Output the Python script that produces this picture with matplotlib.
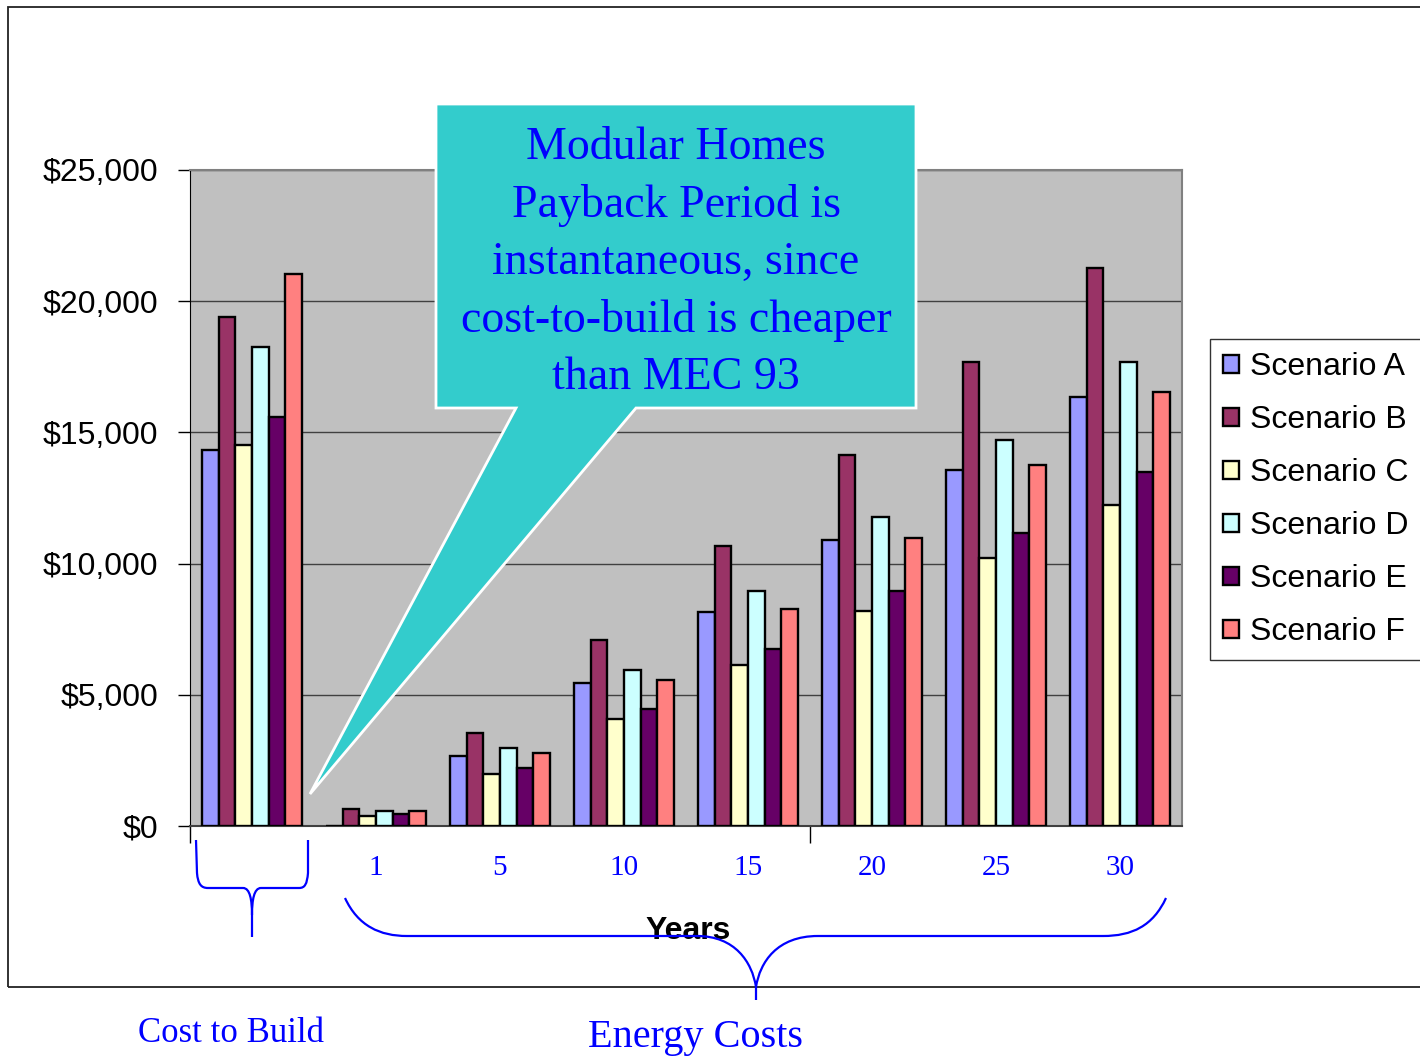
# grafico de costos: cost to build vs energy costs por escenario
import numpy as np
import matplotlib.pyplot as plt
from matplotlib.patches import Polygon, Rectangle, PathPatch
from matplotlib.path import Path

# ============================================================
# DATOS
# ============================================================
categories = ['', '1', '5', '10', '15', '20', '25', '30']
scenarios = ['Scenario A', 'Scenario B', 'Scenario C',
             'Scenario D', 'Scenario E', 'Scenario F']

scen_a = [14340, 0, 2660, 5450, 8170, 10900, 13580, 16340]
scen_b = [19400, 660, 3530, 7090, 10670, 14150, 17690, 21250]
scen_c = [14510, 370, 1990, 4090, 6140, 8200, 10210, 12220]
scen_d = [18270, 560, 2960, 5940, 8950, 11760, 14720, 17690]
scen_e = [15600, 460, 2200, 4470, 6730, 8960, 11180, 13480]
scen_f = [21050, 560, 2790, 5550, 8270, 10970, 13760, 16530]
series = [scen_a, scen_b, scen_c, scen_d, scen_e, scen_f]

colors = ['#9999FF', '#993366', '#FFFFCC', '#CCFFFF', '#660066', '#FF8080']

y_ticks = [0, 5000, 10000, 15000, 20000, 25000]

callout_lines = ['Modular Homes', 'Payback Period is', 'instantaneous, since',
                 'cost-to-build is cheaper', 'than MEC 93']

# ============================================================
# FIGURA
# ============================================================
W, H = 1420, 1061
fig = plt.figure(figsize=(W / 100, H / 100), dpi=100)


def px(x, y):
    # pixeles de la imagen -> fraccion de figura
    return (x / W, 1 - y / H)


ax = fig.add_axes([190 / W, 1 - 826 / H, (1182 - 190) / W, (826 - 170) / H])
ax.set_facecolor('#C0C0C0')

x = np.arange(len(categories))
bw = 0.8 / len(series)
for i, (vals, col, name) in enumerate(zip(series, colors, scenarios)):
    ax.bar(x + (i - 2.5) * bw, vals, width=bw, color=col,
           edgecolor='black', linewidth=1.7, label=name, zorder=3)

ax.set_xlim(-0.5, len(categories) - 0.5)
ax.set_ylim(0, 25000)
ax.set_yticks(y_ticks)
ax.set_yticklabels([f'${v:,.0f}' for v in y_ticks],
                   fontsize=23, family='Liberation Sans')
ax.yaxis.grid(True, color='#404040', linewidth=1, zorder=1)
ax.tick_params(axis='y', length=9, width=1, pad=14)

ax.set_xticks(x)
ax.set_xticklabels(categories, fontsize=21, family='Liberation Serif',
                   color='#0000FF')
ax.tick_params(axis='x', length=0, pad=21)
ax.set_xticks([-0.5, 4.5], minor=True)
ax.tick_params(axis='x', which='minor', length=12, width=1, color='black')

for s in ['top', 'right']:
    ax.spines[s].set_color('#808080')
    ax.spines[s].set_linewidth(1.5)
ax.spines['left'].set_color('black')
ax.spines['bottom'].set_color('#404040')
ax.spines['bottom'].set_linewidth(1.5)

ax.set_xlabel('Years', fontsize=23, fontweight='bold',
              family='Liberation Sans', va='center')
ax.xaxis.set_label_coords(0.502, -0.160)

leg = ax.legend(loc='center left', bbox_to_anchor=px(1210, 499.5),
                bbox_transform=fig.transFigure,
                prop={'family': 'Liberation Sans', 'size': 23},
                frameon=True, fancybox=False, edgecolor='black',
                handlelength=0.5, handleheight=0.5, handletextpad=0.35,
                labelspacing=0.72, borderpad=0.4, borderaxespad=0)
leg.get_frame().set_linewidth(1)

# ============================================================
# MARCO EXTERIOR, CALLOUT Y LLAVES
# ============================================================
x0, y0 = px(8, 987)
fig.patches.append(Rectangle((x0, y0), 1.2, px(0, 7)[1] - y0,
                             transform=fig.transFigure, fill=False,
                             edgecolor='#222222', linewidth=1.3, zorder=0))

callout = [px(436, 104), px(916, 104), px(916, 408), px(636, 408),
           px(310, 794), px(516, 408), px(436, 408)]
fig.patches.append(Polygon(callout, closed=True, transform=fig.transFigure,
                           facecolor='#33CCCC', edgecolor='white',
                           linewidth=2, zorder=5))
for k, line in enumerate(callout_lines):
    fig.text(*px(676, 148 + k * 57.5), line, ha='center', va='center',
             fontsize=33, family='Liberation Serif', color='#0000FF',
             zorder=6)

M, L, C = Path.MOVETO, Path.LINETO, Path.CURVE4
small = [((196, 840), M), ((197, 873), L),
         ((198, 884), C), ((201, 888), C), ((208, 888), C),
         ((243, 888), L),
         ((250, 888), C), ((252, 900), C), ((252, 915), C),
         ((252, 937), L),
         ((252, 915), M),
         ((252, 900), C), ((254, 888), C), ((261, 888), C),
         ((299, 888), L),
         ((305, 888), C), ((307, 884), C), ((308, 873), C),
         ((308, 840), L)]
big = [((345, 898), M),
       ((358, 926), C), ((380, 936), C), ((407, 936), C),
       ((697, 936), L),
       ((735, 936), C), ((752, 962), C), ((756, 987), C),
       ((756, 1000), L),
       ((756, 987), M),
       ((760, 962), C), ((777, 936), C), ((818, 936), C),
       ((1103, 936), L),
       ((1132, 936), C), ((1153, 926), C), ((1166, 898), C)]
for pts in [small, big]:
    verts = [px(*p) for p, _ in pts]
    codes = [c for _, c in pts]
    fig.patches.append(PathPatch(Path(verts, codes), transform=fig.transFigure,
                                 fill=False, edgecolor='#0000FF',
                                 linewidth=1.6, zorder=4))

fig.text(*px(231, 1033), 'Cost to Build', ha='center', va='center',
         fontsize=25, family='Liberation Serif', color='#0000FF')
fig.text(*px(695, 1037), 'Energy Costs', ha='center', va='center',
         fontsize=29, family='Liberation Serif', color='#0000FF')

plt.savefig('out.png', dpi=100)
